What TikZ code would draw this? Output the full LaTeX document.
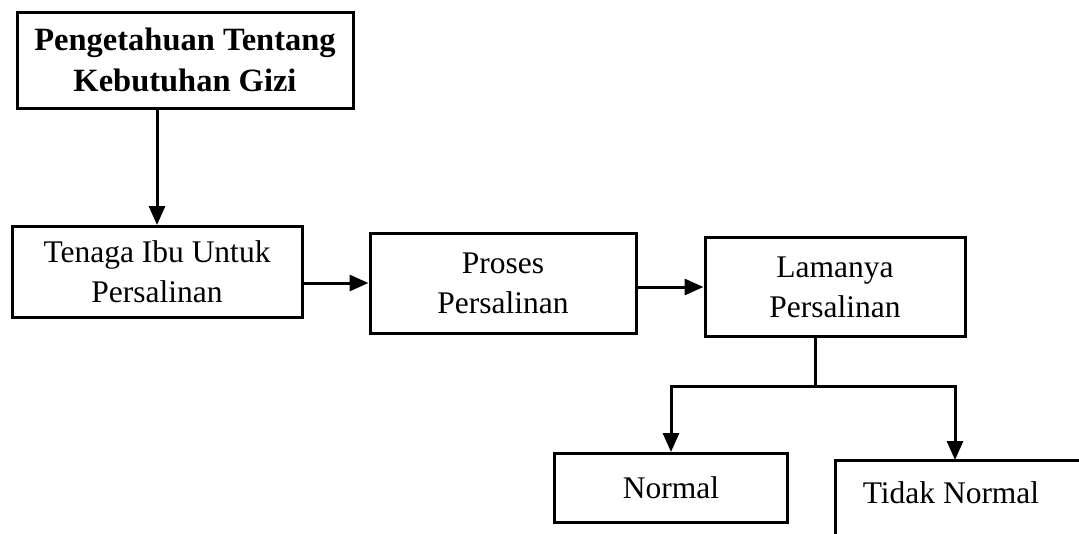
\documentclass[tikz,border=0pt]{standalone}
\usepackage{fontspec}
\setmainfont{Liberation Serif}
\usetikzlibrary{arrows.meta,calc}
\begin{document}
\begin{tikzpicture}[x=1pt,y=-1pt, line width=3pt,
  txt/.style={font=\fontsize{31.5}{40}\selectfont},
  box/.style={draw, rectangle, align=center, txt, inner sep=0pt},
  arr/.style={-{Triangle[length=19pt,width=16pt]}}]
\useasboundingbox (0,0) rectangle (1079,533);
\node[box, minimum width=336, minimum height=96, font=\fontsize{32.5}{41}\selectfont\bfseries] (b1) at (185,60) {Pengetahuan Tentang\\Kebutuhan Gizi};
\node[box, minimum width=290, minimum height=91] (b2) at (157,272) {Tenaga Ibu Untuk\\Persalinan};
\node[box, minimum width=266, minimum height=100] (b3) at (503,283) {Proses\\Persalinan};
\node[box, minimum width=260, minimum height=99] (b4) at (835,287) {Lamanya\\Persalinan};
\node[box, minimum width=233, minimum height=69] (nrm) at (671,488) {Normal};
\node[txt, inner sep=0pt] (tn) at (951,493) {Tidak Normal};
\coordinate (tnbl) at (835,560);
\coordinate (tntr) at (1110,460);
\draw (tnbl) |- (tntr);
\coordinate (tntop) at (955,460);
\coordinate (split) at (815,386);
\draw[arr] (b1.south -| b2.north) -- (b2.north);
\draw[arr] (b2.east |- b3.west) -- (b3.west);
\draw[arr] (b3.east |- b4.west) -- (b4.west);
\draw (split |- b4.south) -- (split);
\draw[arr] (split) -| (nrm.north);
\draw[arr] (split) -| (tntop);
\end{tikzpicture}
\end{document}
